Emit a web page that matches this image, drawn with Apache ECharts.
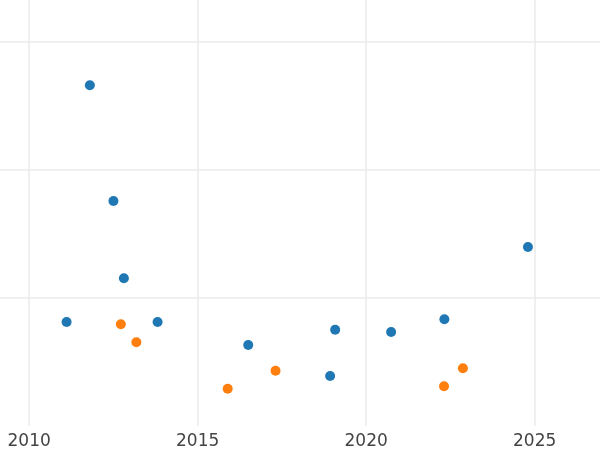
<!DOCTYPE html>
<html>
<head>
<meta charset="utf-8">
<script src="https://cdn.jsdelivr.net/npm/echarts@6/dist/echarts.min.js"></script>
<style>html,body{margin:0;padding:0;background:#fff}#c{width:600px;height:450px}</style>
</head>
<body>
<div id="c"></div>
<script>
// Series A (blue): [year, value]
const seriesAYears  = [2011.80, 2012.50, 2012.81, 2011.11, 2013.81, 2016.50, 2019.08, 2018.93, 2020.74, 2022.32, 2024.80];
const seriesAValues = [2.662, 1.758, 1.154, 0.812, 0.812, 0.633, 0.752, 0.391, 0.734, 0.834, 1.398];
// Series B (orange)
const seriesBYears  = [2012.72, 2013.18, 2015.89, 2017.31, 2022.31, 2022.87];
const seriesBValues = [0.795, 0.654, 0.291, 0.432, 0.310, 0.451];
const xTickYears = [2010, 2015, 2020, 2025];

const chart = echarts.init(document.getElementById('c'), null, {renderer: 'canvas'});
const gridColor = '#ebebeb';
chart.setOption({
  animation: false,
  backgroundColor: '#fff',
  grid: {left: 0, right: 0, top: 0, bottom: 24, containLabel: false},
  xAxis: {
    type: 'value',
    min: 2009.134, max: 2026.938,
    splitNumber: 3,
    axisLine: {show: false},
    axisTick: {show: false},
    axisLabel: {
      showMinLabel: false, showMaxLabel: false,
      color: '#444', fontSize: 17, fontFamily: 'DejaVu Sans', margin: 7,
      formatter: v => xTickYears.includes(Math.round(v)) && Math.abs(v - Math.round(v)) < 1e-6 ? String(Math.round(v)) : ''
    },
    splitLine: {show: true, showMinLine: false, showMaxLine: false, lineStyle: {color: gridColor, width: 1.5}}
  },
  yAxis: {
    type: 'value',
    min: 0, max: 3.328, interval: 1,
    axisLine: {show: false},
    axisTick: {show: false},
    axisLabel: {show: false},
    splitLine: {show: true, showMinLine: false, showMaxLine: false, lineStyle: {color: gridColor, width: 1.5}}
  },
  series: [
    {type: 'scatter', symbolSize: 10, itemStyle: {color: '#1f77b4', opacity: 1},
     data: seriesAYears.map((x, i) => [x, seriesAValues[i]])},
    {type: 'scatter', symbolSize: 10, itemStyle: {color: '#ff7f0e', opacity: 1},
     data: seriesBYears.map((x, i) => [x, seriesBValues[i]])}
  ]
});
</script>
</body>
</html>
